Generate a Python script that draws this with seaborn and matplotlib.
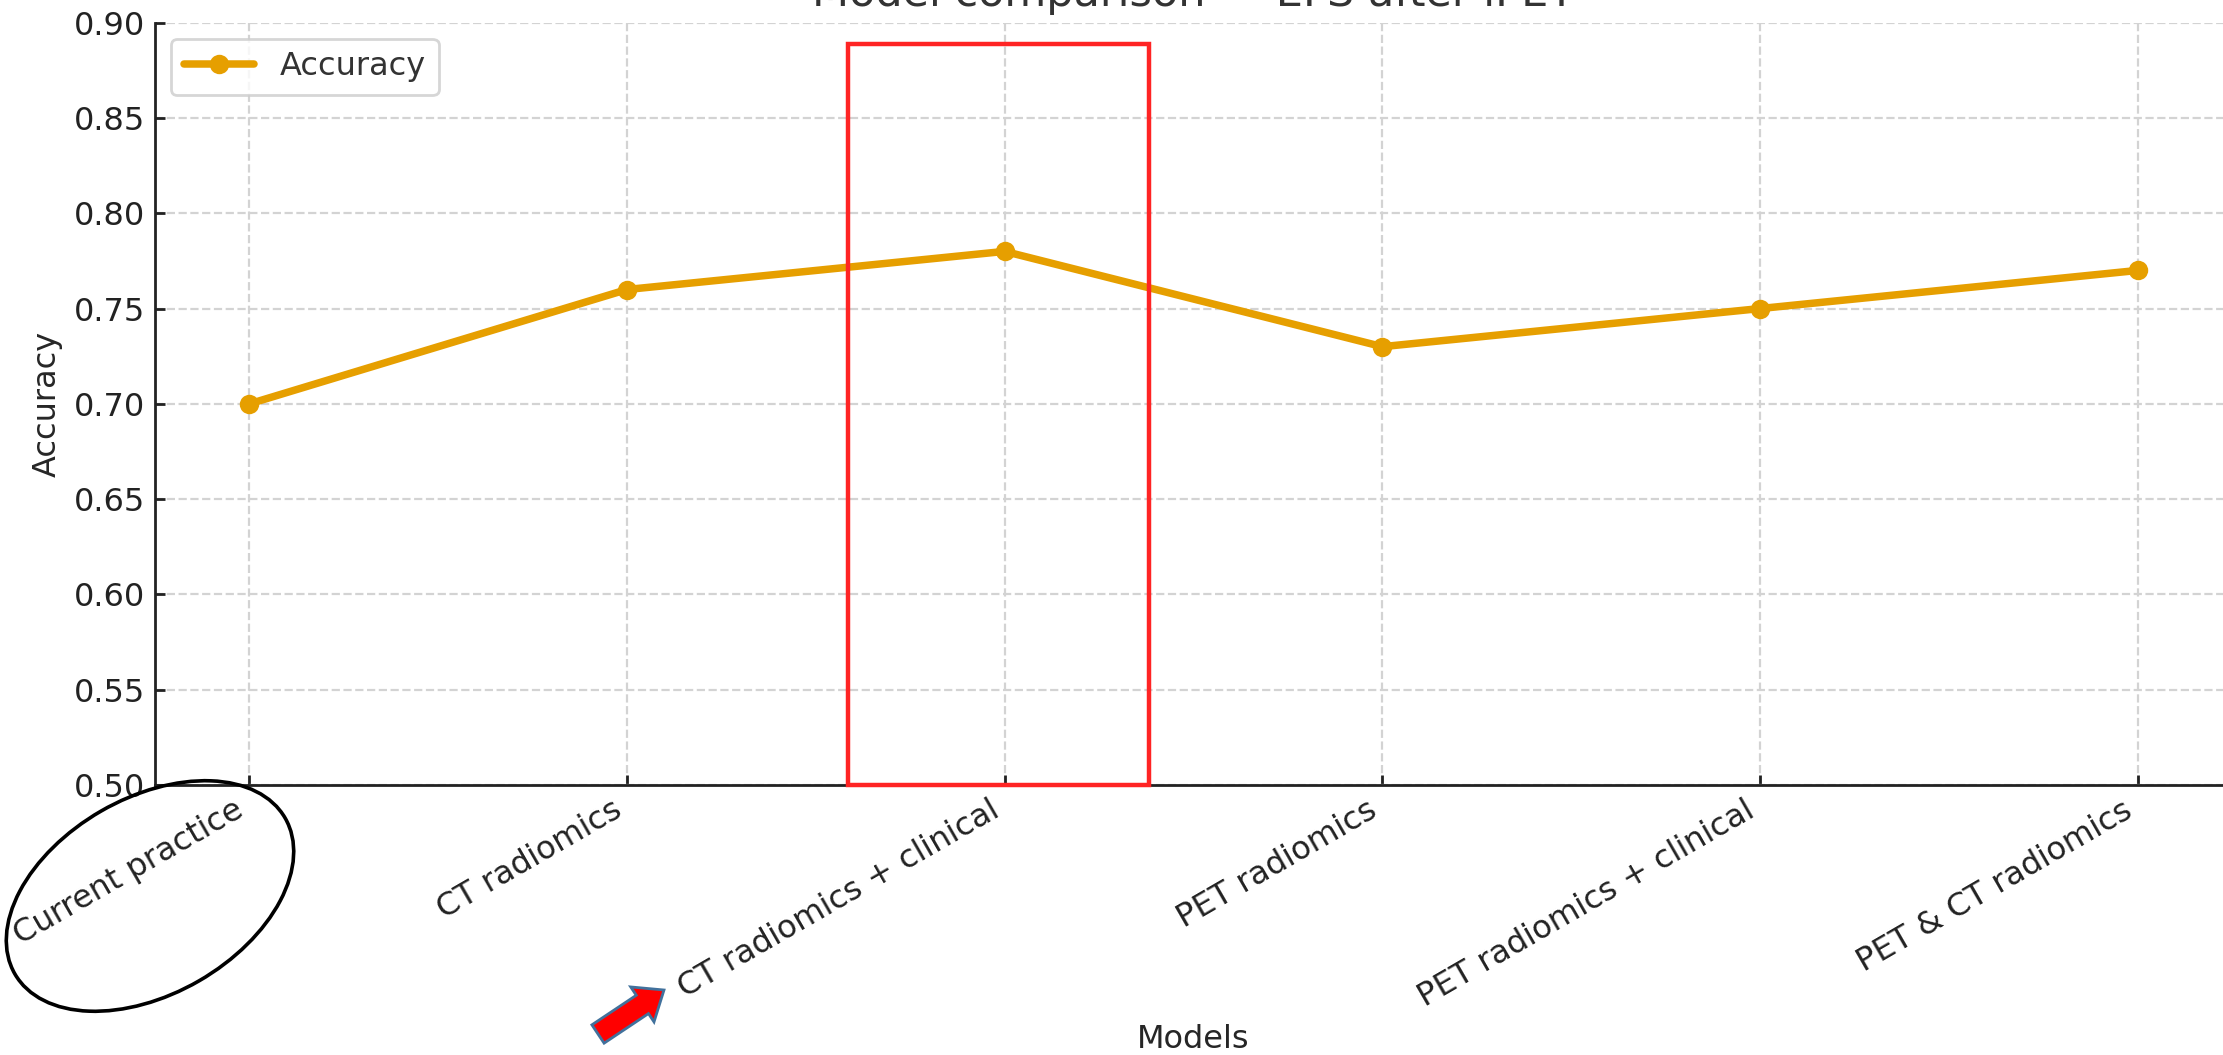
import matplotlib
matplotlib.use("Agg")
import matplotlib.pyplot as plt
import matplotlib.patches as mpatches
import seaborn as sns
import numpy as np
import pandas as pd

models = ["Current practice", "CT radiomics", "CT radiomics + clinical",
          "PET radiomics", "PET radiomics + clinical", "PET & CT radiomics"]
accuracy = [0.70, 0.76, 0.78, 0.73, 0.75, 0.77]
yticks = [0.50, 0.55, 0.60, 0.65, 0.70, 0.75, 0.80, 0.85, 0.90]

df = pd.DataFrame({"Models": models, "Accuracy": accuracy})

sns.set_style("ticks")
plt.rcParams["font.family"] = ["DejaVu Sans"]
plt.rcParams["text.color"] = "#262626"
plt.rcParams["axes.labelcolor"] = "#262626"

W, H, DPI = 2223, 1055, 200
fig = plt.figure(figsize=(W / DPI, H / DPI), dpi=DPI)
# axes runs a little past the right edge, like the reference crop
ax = fig.add_axes([155 / W, 1 - 785 / H, (2232 - 155) / W, (785 - 22.7) / H])

sns.lineplot(data=df, x="Models", y="Accuracy", ax=ax, color="#E69F00",
             marker="o", markersize=7, markeredgewidth=0, linewidth=2.7,
             label="Accuracy", sort=False)

ax.set_xlim(-0.25, 5.25)
ax.set_ylim(0.5, 0.9)
ax.set_yticks(yticks)
ax.set_yticklabels([f"{v:.2f}" for v in yticks])
ax.grid(True, linestyle="--", color="#d3d3d3", linewidth=0.8)
ax.set_axisbelow(True)
sns.despine(ax=ax)
for s in ("left", "bottom"):
    ax.spines[s].set_color("#222222")
    ax.spines[s].set_linewidth(1.0)

ax.tick_params(axis="both", labelsize=11.5, colors="#222222", direction="in",
               length=3.5, width=1.0, pad=3.5)
plt.setp(ax.get_xticklabels(), rotation=30, ha="right")
ax.set_xlabel("Models", fontsize=11.5)
ax.set_ylabel("Accuracy", fontsize=11.5)
ax.set_title("Model comparison — EFS after iPET", fontsize=15.5, color="#333333")

leg = ax.legend(loc="upper left", fontsize=11.5, frameon=True, fancybox=True,
                handlelength=2.2)
leg.get_frame().set_edgecolor("#cccccc")
for t in leg.get_texts():
    t.set_color("#333333")

# highlight box around the best model
ax.add_patch(mpatches.Rectangle((1.585, 0.5), 0.797, 0.389, fill=False,
                                edgecolor="#ff2424", linewidth=1.6,
                                zorder=4, clip_on=False))

# hand-drawn style marks (figure inches)
inch = fig.dpi_scale_trans
fig.patches.append(mpatches.Ellipse((150 / DPI, (H - 896) / DPI), 312 / DPI, 196 / DPI,
                                    angle=30, fill=False, edgecolor="black",
                                    linewidth=1.3, transform=inch))
fig.patches.append(mpatches.FancyArrow(598 / DPI, (H - 1034) / DPI, 66 / DPI, 44 / DPI,
                                       width=22 / DPI, head_width=42 / DPI,
                                       head_length=26 / DPI, length_includes_head=True,
                                       facecolor="#ff0000", edgecolor="#41719c",
                                       linewidth=1.0, transform=inch))

fig.savefig("out.png", dpi=DPI)
